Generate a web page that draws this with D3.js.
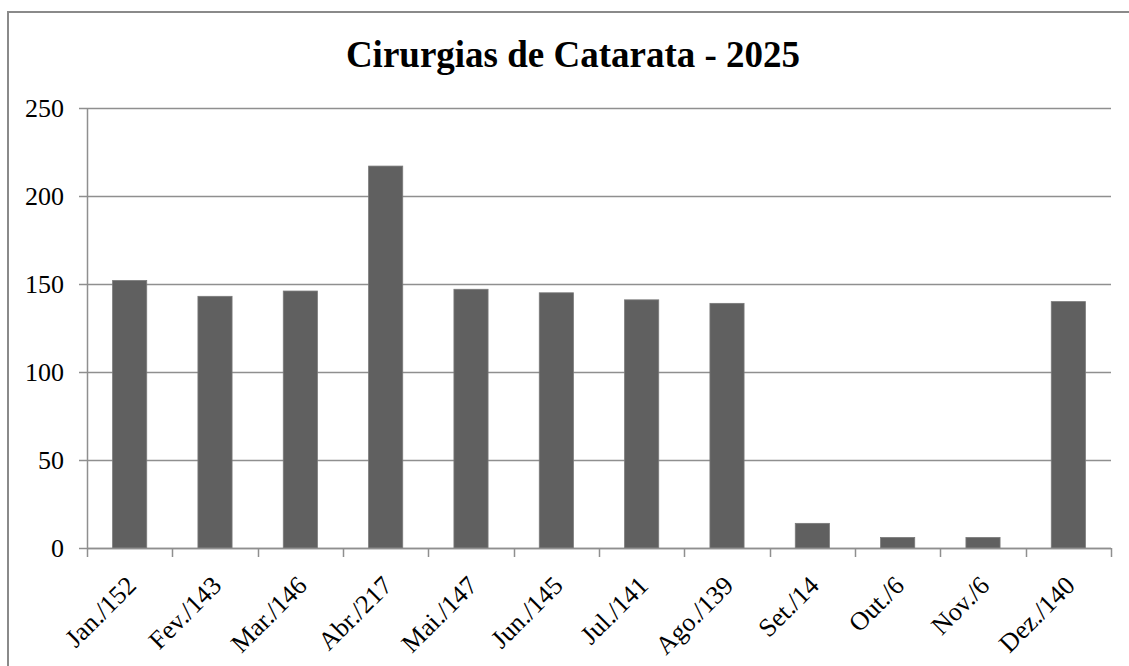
<!DOCTYPE html>
<html>
<head>
<meta charset="utf-8">
<script src="https://cdn.jsdelivr.net/npm/d3@7"></script>
<style>
  body { margin: 0; background: #fff; }
  text { font-family: "Liberation Serif", "Times New Roman", serif; fill: #000; }
</style>
</head>
<body>
<div id="chart"></div>
<script>
// Chart data
const months = ["Jan.", "Fev.", "Mar.", "Abr.", "Mai.", "Jun.", "Jul.", "Ago.", "Set.", "Out.", "Nov.", "Dez."];
const surgeries = [152, 143, 146, 217, 147, 145, 141, 139, 14, 6, 6, 140];
const yTicks = [0, 50, 100, 150, 200, 250];
const chartTitle = "Cirurgias de Catarata - 2025";

const labels = months.map((m, i) => `${m}/${surgeries[i]}`);

const width = 1129;
const height = 666;
const margin = { top: 108, right: 18, bottom: 118, left: 87 };
const innerW = width - margin.left - margin.right;
const innerH = height - margin.top - margin.bottom;

const svg = d3.select("#chart")
    .append("svg")
    .attr("width", width)
    .attr("height", height);

// Outer border (runs past the right and bottom edges)
svg.append("rect")
    .attr("x", 8)
    .attr("y", 12)
    .attr("width", 1200)
    .attr("height", 800)
    .attr("fill", "none")
    .attr("stroke", "#8a8a8a")
    .attr("stroke-width", 2);

// Title
svg.append("text")
    .attr("x", 573)
    .attr("y", 67)
    .attr("text-anchor", "middle")
    .attr("font-size", 37)
    .attr("font-weight", "bold")
    .text(chartTitle);

const g = svg.append("g")
    .attr("transform", `translate(${margin.left}, ${margin.top})`);

const x = d3.scaleBand()
    .domain(labels)
    .range([0, innerW])
    .paddingInner(0.6)
    .paddingOuter(0.3);

const y = d3.scaleLinear()
    .domain([0, 250])
    .range([innerH, 0]);

// Gridlines
g.selectAll(".grid")
    .data(yTicks)
    .enter()
    .append("line")
    .attr("x1", -8)
    .attr("x2", innerW)
    .attr("y1", d => Math.round(y(d)) + 0.5)
    .attr("y2", d => Math.round(y(d)) + 0.5)
    .attr("stroke", "#8f8f8f")
    .attr("stroke-width", 1.5);

// Y axis labels
g.selectAll(".ylab")
    .data(yTicks)
    .enter()
    .append("text")
    .attr("x", -23)
    .attr("y", d => y(d))
    .attr("dy", "0.35em")
    .attr("text-anchor", "end")
    .attr("font-size", 26)
    .text(d => d);

// Y axis line
g.append("line")
    .attr("x1", 0.5).attr("x2", 0.5)
    .attr("y1", 0).attr("y2", innerH)
    .attr("stroke", "#8f8f8f")
    .attr("stroke-width", 1.5);

// Bars
g.selectAll(".bar")
    .data(surgeries)
    .enter()
    .append("rect")
    .attr("x", (d, i) => x(labels[i]))
    .attr("y", d => y(d))
    .attr("width", x.bandwidth())
    .attr("height", d => innerH - y(d))
    .attr("fill", "#606060")
    .attr("stroke", "#7a7a7a")
    .attr("stroke-width", 0.8);

// X axis line and ticks at category boundaries
g.append("line")
    .attr("x1", 0).attr("x2", innerW)
    .attr("y1", innerH + 0.5).attr("y2", innerH + 0.5)
    .attr("stroke", "#8f8f8f")
    .attr("stroke-width", 1.5);

const step = x.step();
g.selectAll(".xtick")
    .data(d3.range(labels.length + 1))
    .enter()
    .append("line")
    .attr("x1", i => Math.round(i * step) + 0.5)
    .attr("x2", i => Math.round(i * step) + 0.5)
    .attr("y1", innerH)
    .attr("y2", innerH + 9)
    .attr("stroke", "#8f8f8f")
    .attr("stroke-width", 1.5);

// X labels, rotated
g.selectAll(".xlab")
    .data(labels)
    .enter()
    .append("text")
    .attr("transform", d => `translate(${x(d) + x.bandwidth() / 2 + 8}, ${innerH + 39}) rotate(-45)`)
    .attr("text-anchor", "end")
    .attr("font-size", 26)
    .text(d => d);
</script>
</body>
</html>
